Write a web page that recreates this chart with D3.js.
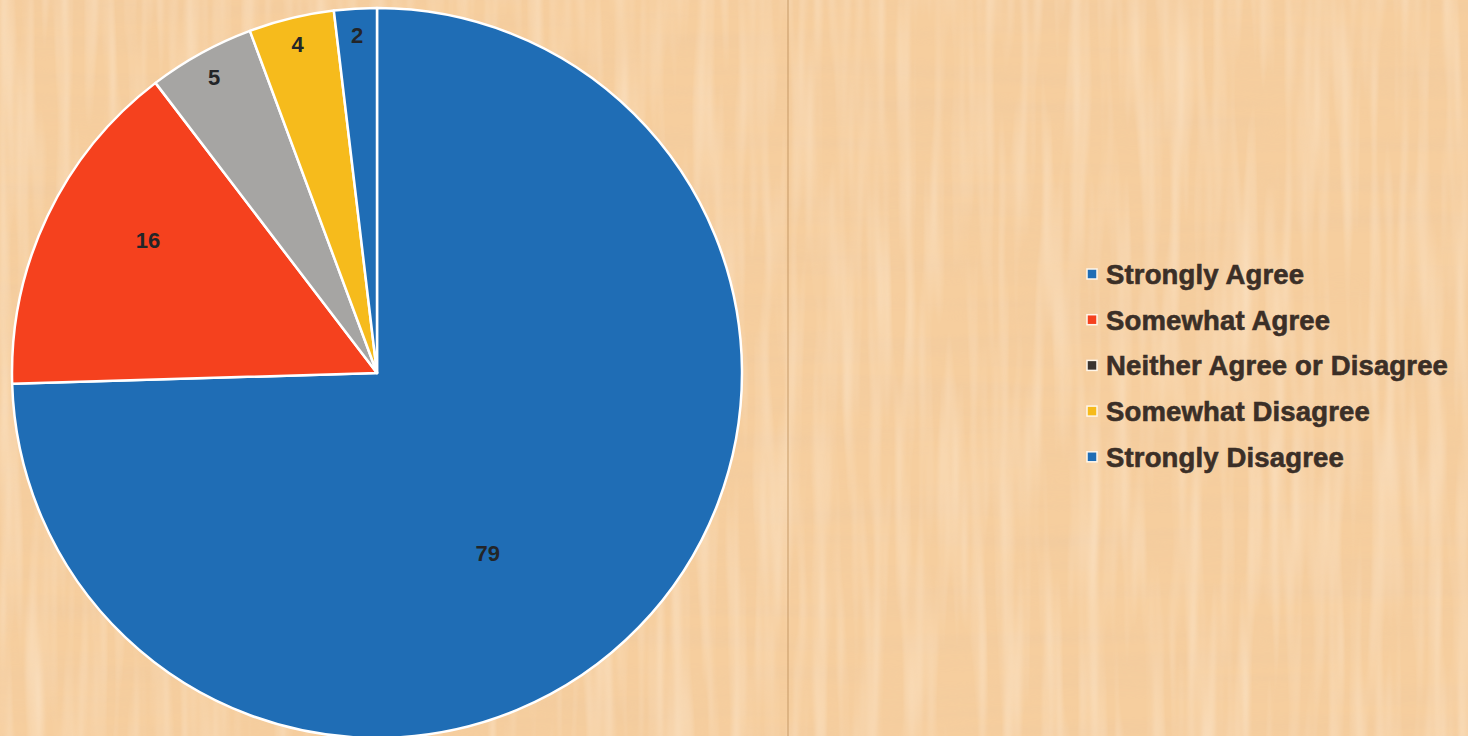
<!DOCTYPE html>
<html>
<head>
<meta charset="utf-8">
<script src="https://cdn.jsdelivr.net/npm/d3@7/dist/d3.min.js"></script>
<style>
  html, body { margin: 0; padding: 0; background: #f7d5a6; }
  svg { display: block; }
  text { font-family: 'Liberation Sans', Arial, Helvetica, sans-serif; font-weight: bold; }
</style>
</head>
<body>
<svg id="chart" width="1468" height="736"></svg>
<script>
const categories = ["Strongly Agree", "Somewhat Agree", "Neither Agree or Disagree", "Somewhat Disagree", "Strongly Disagree"];
const values = [79, 16, 5, 4, 2];
const colors = ["#1f6db5", "#f5411e", "#a6a5a3", "#f6bb1c", "#1f6db5"];
const legendColors = ["#1f6db5", "#f5411e", "#3a3430", "#f6bb1c", "#1f6db5"];

const W = 1468, H = 736;
const svg = d3.select("#chart");

// background: parchment-like
const defs = svg.append("defs");
const f = defs.append("filter").attr("id", "paper").attr("x", 0).attr("y", 0).attr("width", "100%").attr("height", "100%");
f.append("feTurbulence").attr("type", "fractalNoise").attr("baseFrequency", "0.004 0.06").attr("numOctaves", 3).attr("seed", 4).attr("result", "n1");
f.append("feColorMatrix").attr("in", "n1").attr("type", "matrix")
  .attr("values", "0 0 0 0 0.85  0 0 0 0 0.58  0 0 0 0 0.35  0 0 0 -1.4 0.9").attr("result", "c1");
f.append("feTurbulence").attr("type", "fractalNoise").attr("baseFrequency", "0.07 0.005").attr("numOctaves", 2).attr("seed", 9).attr("result", "n2");
f.append("feColorMatrix").attr("in", "n2").attr("type", "matrix")
  .attr("values", "0 0 0 0 1  0 0 0 0 0.90  0 0 0 0 0.78  0 0 0 -1.6 0.95").attr("result", "c2");
f.append("feMerge").selectAll("feMergeNode").data(["c1", "c2"]).join("feMergeNode").attr("in", d => d);

svg.append("rect").attr("width", W).attr("height", H).attr("fill", "#f6ce9e");
svg.append("rect").attr("width", W).attr("height", H).attr("filter", "url(#paper)").attr("opacity", 0.5);
svg.append("line").attr("x1", 788).attr("x2", 788).attr("y1", 0).attr("y2", H)
  .attr("stroke", "#c99c6a").attr("stroke-width", 1.5).attr("opacity", 0.7);

// pie
const cx = 377, cy = 373, R = 365;
const total = d3.sum(values);
const pie = d3.pie().sort(null).value(d => d.v);
const arcs = pie(values.map((v, i) => ({ v, name: categories[i], color: colors[i] })));
const arc = d3.arc().innerRadius(0).outerRadius(R);

const g = svg.append("g").attr("transform", `translate(${cx},${cy})`);
g.selectAll("path.slice").data(arcs).join("path")
  .attr("class", "slice")
  .attr("d", arc)
  .attr("fill", d => d.data.color)
  .attr("stroke", "#ffffff")
  .attr("stroke-width", 2.5)
  .attr("stroke-linejoin", "round");

function labelPos(d) {
  const frac = d.data.v / total;
  const k = frac > 0.5 ? 0.58 : frac > 0.1 ? 0.725 : 0.925;
  let a = (d.startAngle + d.endAngle) / 2;
  if (frac > 0.5) a += 0.25;
  else if (frac > 0.1) a += 0.08;
  return [Math.sin(a) * R * k, -Math.cos(a) * R * k];
}
g.selectAll("text.lbl").data(arcs).join("text")
  .attr("class", "lbl")
  .attr("x", d => labelPos(d)[0])
  .attr("y", d => labelPos(d)[1])
  .attr("text-anchor", "middle")
  .attr("dominant-baseline", "central")
  .attr("font-size", 22)
  .attr("fill", "#232528")
  .text(d => d.data.v);

// legend
const legend = svg.append("g").attr("transform", "translate(1087,284)");
const items = legend.selectAll("g").data(categories).join("g")
  .attr("transform", (d, i) => `translate(0,${i * 45.7})`);
items.append("rect").attr("x", 0).attr("y", -15).attr("width", 10).attr("height", 10)
  .attr("fill", (d, i) => legendColors[i]).attr("stroke", "#fff6ea").attr("stroke-width", 1.5);
items.append("text").attr("x", 19).attr("y", 0)
  .attr("font-size", 27.5)
  .attr("fill", "#3b2f27")
  .attr("stroke", "#3b2f27")
  .attr("stroke-width", 0.6)
  .attr("letter-spacing", 0.15)
  .text(d => d);
</script>
</body>
</html>
